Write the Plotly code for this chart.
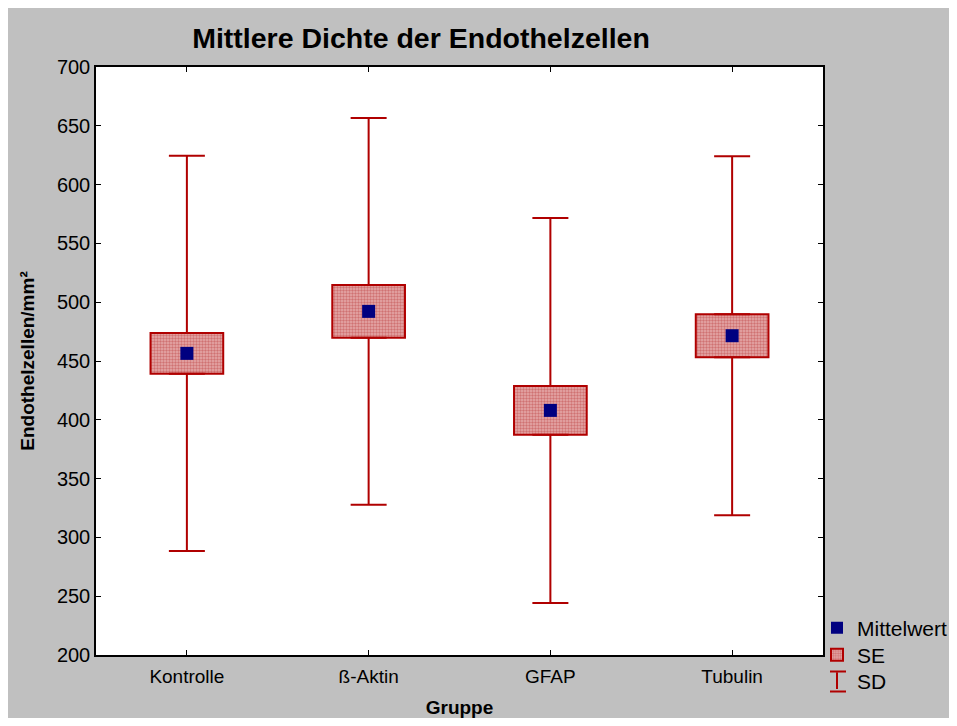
import plotly.graph_objects as go

groups = ["Kontrolle", "ß-Aktin", "GFAP", "Tubulin"]
mean_vals = [456.5, 492.2, 408.0, 471.5]
se_vals = [17.4, 22.5, 20.8, 18.3]
sd_vals = [168.0, 164.5, 163.7, 152.7]
y_ticks = [200, 250, 300, 350, 400, 450, 500, 550, 600, 650, 700]

RED = "#b00000"
NAVY = "#000080"
FONT = "Liberation Sans, Arial, sans-serif"

W, H = 941, 710
OFF = 8  # page offset of the figure
PL, PR, PT, PB = 96, 823, 67, 655  # plot area in page pixels

fig = go.Figure()

# SE boxes
fig.add_trace(go.Bar(
    x=groups,
    y=[2 * s for s in se_vals],
    base=[m - s for m, s in zip(mean_vals, se_vals)],
    width=0.4,
    name="SE",
    legend="legend2",
    marker=dict(
        color="#dc9e9e",
        line=dict(color=RED, width=2),
        pattern=dict(shape=".", fgcolor="#b83838", bgcolor="#e6acac", size=3, solidity=0.5),
    ),
))

# SD whiskers (upper part, from box top)
fig.add_trace(go.Scatter(
    x=groups,
    y=[m + s for m, s in zip(mean_vals, se_vals)],
    mode="markers",
    marker=dict(size=1, opacity=0, color=RED),
    error_y=dict(type="data", symmetric=False,
                 array=[d - s for d, s in zip(sd_vals, se_vals)],
                 arrayminus=[0] * len(groups),
                 color=RED, thickness=2, width=18),
    showlegend=False, hoverinfo="skip",
))
# SD whiskers (lower part, from box bottom)
fig.add_trace(go.Scatter(
    x=groups,
    y=[m - s for m, s in zip(mean_vals, se_vals)],
    mode="markers",
    marker=dict(size=1, opacity=0, color=RED),
    error_y=dict(type="data", symmetric=False,
                 array=[0] * len(groups),
                 arrayminus=[d - s for d, s in zip(sd_vals, se_vals)],
                 color=RED, thickness=2, width=18),
    showlegend=False, hoverinfo="skip",
))

# Means
fig.add_trace(go.Scatter(
    x=groups, y=mean_vals, mode="markers", name="Mittelwert",
    legend="legend",
    marker=dict(symbol="square", size=13, color=NAVY),
))

# SD legend entry
fig.add_trace(go.Scatter(
    x=[None], y=[None], mode="markers", name="SD",
    legend="legend3",
    marker=dict(symbol="line-ns-open", size=20, color=RED, line=dict(color=RED, width=2)),
))


def legend_at(y_page):
    return dict(
        xref="container", yref="container",
        x=(817 - OFF) / W, xanchor="left",
        y=1 - (y_page - OFF) / H, yanchor="middle",
        bgcolor="rgba(0,0,0,0)",
        font=dict(size=21, family=FONT, color="black"),
        itemsizing="constant",
    )


def px_to_paper_x(px):
    return (px - PL) / (PR - PL)


def px_to_paper_y(py):
    return (PB - py) / (PB - PT)


# caps of the SD legend glyph (I-beam)
legend_caps = []
for cap_y in (671.5, 691.5):
    legend_caps.append(dict(
        type="line", xref="paper", yref="paper",
        x0=px_to_paper_x(830), x1=px_to_paper_x(846),
        y0=px_to_paper_y(cap_y), y1=px_to_paper_y(cap_y),
        line=dict(color=RED, width=2),
    ))

fig.update_layout(
    width=W, height=H,
    autosize=False,
    paper_bgcolor="#c0c0c0",
    plot_bgcolor="white",
    margin=dict(l=PL - OFF, r=W - (PR - OFF), t=PT - OFF, b=H - (PB - OFF), autoexpand=False),
    font=dict(family=FONT, size=20, color="black"),
    title=dict(text="<b>Mittlere Dichte der Endothelzellen</b>",
               font=dict(size=28.5, family=FONT, color="black"),
               x=(421 - OFF) / W, xanchor="center", xref="container",
               y=1 - (38 - OFF) / H, yanchor="middle", yref="container"),
    showlegend=True,
    legend=legend_at(628),
    legend2=legend_at(655),
    legend3=legend_at(681),
    barmode="overlay",
    shapes=legend_caps,
)

fig.update_xaxes(
    range=[-0.5, 3.5],
    showline=True, linecolor="black", linewidth=1.5, mirror="ticks",
    ticks="inside", ticklen=5, tickcolor="black",
    showgrid=False, zeroline=False,
    ticklabelstandoff=3,
    title=dict(text="<b>Gruppe</b>", font=dict(size=19, family=FONT), standoff=19),
    tickfont=dict(size=19),
)
fig.update_yaxes(
    range=[200, 700],
    tickvals=y_ticks,
    showline=True, linecolor="black", linewidth=1.5, mirror="ticks",
    ticks="inside", ticklen=5, tickcolor="black",
    showgrid=False, zeroline=False,
    title=dict(text="<b>Endothelzellen/mm²</b>", font=dict(size=19, family=FONT), standoff=17),
    tickfont=dict(size=20),
)

fig.write_html("out.html")
